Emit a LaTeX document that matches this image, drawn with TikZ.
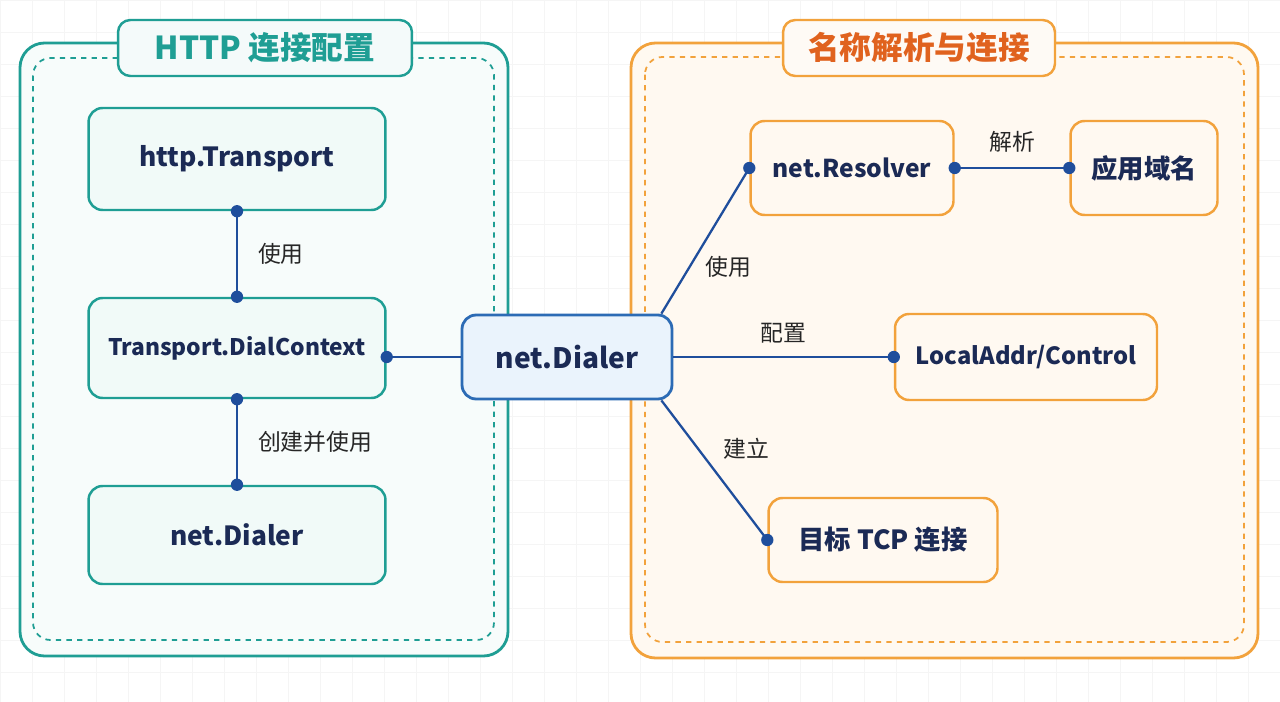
\documentclass[tikz,border=0pt]{standalone}
\usepackage{fontspec}
\setmainfont{Noto Sans CJK SC}
\usetikzlibrary{positioning}
\definecolor{tealc}{HTML}{1F9E94}
\definecolor{tealbg}{HTML}{F1FAF8}
\definecolor{orangec}{HTML}{F2A23C}
\definecolor{orangebg}{HTML}{FFF9F1}
\definecolor{bluec}{HTML}{2C6BB5}
\definecolor{bluebg}{HTML}{EAF3FC}
\definecolor{navy}{HTML}{1B2A55}
\definecolor{linec}{HTML}{1F4E9C}
\definecolor{redc}{HTML}{E0621E}
\tikzset{
  tbox/.style={draw=tealc,line width=1.4pt,fill=tealbg,rounded corners=8pt,inner sep=2pt,text=navy,font=\fontsize{15}{18}\selectfont\bfseries},
  obox/.style={draw=orangec,line width=1.4pt,fill=orangebg,rounded corners=8pt,inner sep=2pt,text=navy,font=\fontsize{15}{18}\selectfont\bfseries},
  link/.style={draw=linec,line width=1.3pt},
  dot/.style={circle,fill=linec,inner sep=0pt,minimum size=7pt},
  lbl/.style={font=\fontsize{13}{15}\selectfont,text=black!85}
}
\begin{document}
\begin{tikzpicture}[x=0.02cm,y=-0.02cm]
    \useasboundingbox[fill=white] (0,0) rectangle (1280,702);
    % grid background
    \foreach \i in {0,32,...,1280} {
      \draw[black!4] (\i,0) -- (\i,702);
    }
    \foreach \j in {0,32,...,702} {
      \draw[black!4] (0,\j) -- (1280,\j);
    }
    % left panel
    \draw[tealc,line width=1.6pt,fill=tealbg!60,rounded corners=14pt] (20,43) rectangle (508,656);
    \draw[tealc,line width=1pt,dashed,rounded corners=10pt] (33,58) rectangle (494,640);
    \node[draw=tealc,line width=1.4pt,fill=tealbg!80!tealc!20,rounded corners=7pt,inner sep=2pt,minimum width=5.88cm,minimum height=1.12cm,text=tealc,font=\fontsize{18}{21}\selectfont\bfseries] (httptitle) at (265,48) {HTTP 连接配置};
    % right panel
    \draw[orangec,line width=1.6pt,fill=orangebg,rounded corners=14pt] (631,43) rectangle (1258,658);
    \draw[orangec,line width=1pt,dashed,rounded corners=10pt] (645,57) rectangle (1244,642);
    \node[draw=orangec,line width=1.4pt,fill=orangebg!80!orangec!20,rounded corners=7pt,inner sep=2pt,minimum width=5.44cm,minimum height=1.12cm,text=redc,font=\fontsize{18}{21}\selectfont\bfseries] (resolvetitle) at (919,48) {名称解析与连接};
    % nodes
    \node[tbox,minimum width=5.94cm,minimum height=2.04cm] (transport) at (237,159) {http.Transport};
    \node[tbox,minimum width=5.94cm,minimum height=2cm,font=\fontsize{13}{16}\selectfont\bfseries] (dialctx) at (237,348) {Transport.DialContext};
    \node[tbox,minimum width=5.94cm,minimum height=1.96cm] (leftdialer) at (237,535) {net.Dialer};
    \node[draw=bluec,line width=1.6pt,fill=bluebg,rounded corners=8pt,inner sep=2pt,minimum width=4.2cm,minimum height=1.68cm,text=navy,font=\fontsize{16}{19}\selectfont\bfseries] (dialer) at (567,357) {net.Dialer};
    \node[obox,minimum width=4.06cm,minimum height=1.88cm,font=\fontsize{14}{17}\selectfont\bfseries] (resolver) at (852,168) {net.Resolver};
    \node[obox,minimum width=2.94cm,minimum height=1.88cm] (domain) at (1144,168) {应用域名};
    \node[obox,minimum width=5.24cm,minimum height=1.72cm,font=\fontsize{13.5}{16}\selectfont\bfseries] (local) at (1026,357) {LocalAddr/Control};
    \node[obox,minimum width=4.58cm,minimum height=1.68cm] (tcp) at (883,540) {目标 TCP 连接};
    % connectors
    \draw[link] (transport.south) -- node[lbl,right=8pt] {使用} (dialctx.north);
    \node[dot] at (transport.south) {};
    \node[dot] at (dialctx.north) {};
    \draw[link] (dialctx.south) -- node[lbl,right=8pt] {创建并使用} (leftdialer.north);
    \node[dot] at (dialctx.south) {};
    \node[dot] at (leftdialer.north) {};
    \draw[link] (dialctx.east |- dialer.west) coordinate (ctxout) -- (dialer.west);
    \node[dot] at (ctxout) {};
    \draw[link] (dialer.north east) ++(-12,0) coordinate (dne) -- (resolver.west);
    \node[dot] at (resolver.west) {};
    \node[lbl] at (728,267) {使用};
    \draw[link] (dialer.east) -- node[lbl,above=4pt] {配置} (local.west);
    \node[dot] at (local.west) {};
    \draw[link] (dialer.south east) ++(-12,0) coordinate (dse) -- (tcp.west);
    \node[dot] at (tcp.west) {};
    \node[lbl] at (746,449) {建立};
    \draw[link] (resolver.east) -- node[lbl,above=5pt] {解析} (domain.west);
    \node[dot] at (resolver.east) {};
    \node[dot] at (domain.west) {};
  \end{tikzpicture}
\end{document}
